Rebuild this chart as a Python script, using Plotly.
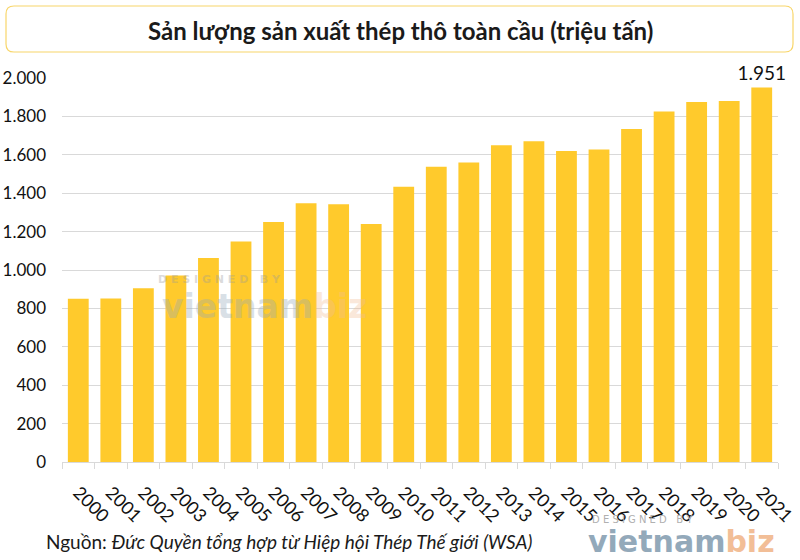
import plotly.graph_objects as go

years = [str(y) for y in range(2000, 2022)]
production = [850, 852, 905, 971, 1063, 1148, 1250, 1348, 1343, 1239, 1433, 1538,
              1560, 1650, 1670, 1620, 1627, 1735, 1826, 1875, 1880, 1951]
tick_vals = [0, 200, 400, 600, 800, 1000, 1200, 1400, 1600, 1800, 2000]
tick_text = ["0", "200", "400", "600", "800", "1.000", "1.200", "1.400", "1.600", "1.800", "2.000"]
labels = [""] * (len(production) - 1) + ["1.951"]

title_text = "<b>Sản lượng sản xuất thép thô toàn cầu (triệu tấn)</b>"
source_text = "Nguồn: <i>Đức Quyền tổng hợp từ Hiệp hội Thép Thế giới (WSA)</i>"

W, H = 800, 560
ML, MR, MT, MB = 62, 22, 78, 98
PW, PH = W - ML - MR, H - MT - MB

def px(x):
    return (x - ML) / PW

def py(y):
    return (H - MB - y) / PH

fig = go.Figure()
fig.add_trace(go.Bar(
    x=years, y=production, marker=dict(color="#FFCA2C", line=dict(width=0)),
    text=labels, textposition="outside", cliponaxis=False, constraintext="none",
    textfont=dict(family="Lato", size=19, color="#111111"),
    hoverinfo="x+y",
))

# rounded title box path in paper coords
x0, x1, y0, y1, r = 6, 793, 6, 52, 8
path = (f"M {px(x0+r)} {py(y0)} L {px(x1-r)} {py(y0)} "
        f"Q {px(x1)} {py(y0)} {px(x1)} {py(y0+r)} L {px(x1)} {py(y1-r)} "
        f"Q {px(x1)} {py(y1)} {px(x1-r)} {py(y1)} L {px(x0+r)} {py(y1)} "
        f"Q {px(x0)} {py(y1)} {px(x0)} {py(y1-r)} L {px(x0)} {py(y0+r)} "
        f"Q {px(x0)} {py(y0)} {px(x0+r)} {py(y0)} Z")
fig.add_shape(type="path", path=path, xref="paper", yref="paper",
              line=dict(color="#F8D66A", width=1.2), fillcolor="rgba(0,0,0,0)", layer="above")

fig.add_annotation(text=title_text, xref="paper", yref="paper", x=px(400), y=py(30),
                   showarrow=False, xanchor="center", yanchor="middle",
                   font=dict(family="Lato", size=24, color="#1a1a1a"))
fig.add_annotation(text=source_text, xref="paper", yref="paper", x=px(44), y=py(541),
                   showarrow=False, xanchor="left", yanchor="middle",
                   font=dict(family="Lato", size=19, color="#1a1a1a"))

# watermarks
fig.add_annotation(text="D E S I G N E D   B Y", xref="paper", yref="paper", x=px(590), y=py(519),
                   showarrow=False, xanchor="left", yanchor="middle",
                   font=dict(family="DejaVu Sans", size=10, color="#b0b0b0"))
fig.add_annotation(text="<b>vietnam</b><b><span style='color:#F2BE97'>biz</span></b>",
                   xref="paper", yref="paper", x=px(586), y=py(541),
                   showarrow=False, xanchor="left", yanchor="middle",
                   font=dict(family="DejaVu Sans", size=30, color="#93A9BA"))
fig.add_annotation(text="<b>D E S I G N E D   B Y</b>", xref="paper", yref="paper", x=px(156), y=py(279),
                   showarrow=False, xanchor="left", yanchor="middle", opacity=0.35,
                   font=dict(family="DejaVu Sans", size=11, color="#9a9a9a"))
fig.add_annotation(text="<b>vietnam</b><b><span style='color:#F2BE97'>biz</span></b>",
                   xref="paper", yref="paper", x=px(160), y=py(306),
                   showarrow=False, xanchor="left", yanchor="middle", opacity=0.35,
                   font=dict(family="DejaVu Sans", size=33, color="#93A9BA"))

fig.update_layout(
    width=W, height=H,
    margin=dict(l=ML, r=MR, t=MT, b=MB, autoexpand=False),
    paper_bgcolor="white", plot_bgcolor="white",
    bargap=0.36, showlegend=False,
    font=dict(family="Lato", color="#1a1a1a"),
    xaxis=dict(
        type="category", tickangle=45, tickson="boundaries",
        ticks="outside", ticklen=6, tickcolor="#d9d9d9",
        showline=True, linecolor="#d9d9d9", linewidth=1,
        tickfont=dict(family="Lato", size=18, color="#111111"),
        ticklabelstandoff=12, showgrid=False,
    ),
    yaxis=dict(
        range=[0, 2000], tickvals=tick_vals, ticktext=tick_text,
        showgrid=True, gridcolor="#d9d9d9", gridwidth=1,
        zeroline=False, ticks="", ticklabelstandoff=15,
        tickfont=dict(family="Lato", size=17, color="#111111"),
    ),
)

fig.write_html("out.html", config={"displayModeBar": False},
               post_script="document.body.style.margin='0';document.body.style.overflow='hidden';")
